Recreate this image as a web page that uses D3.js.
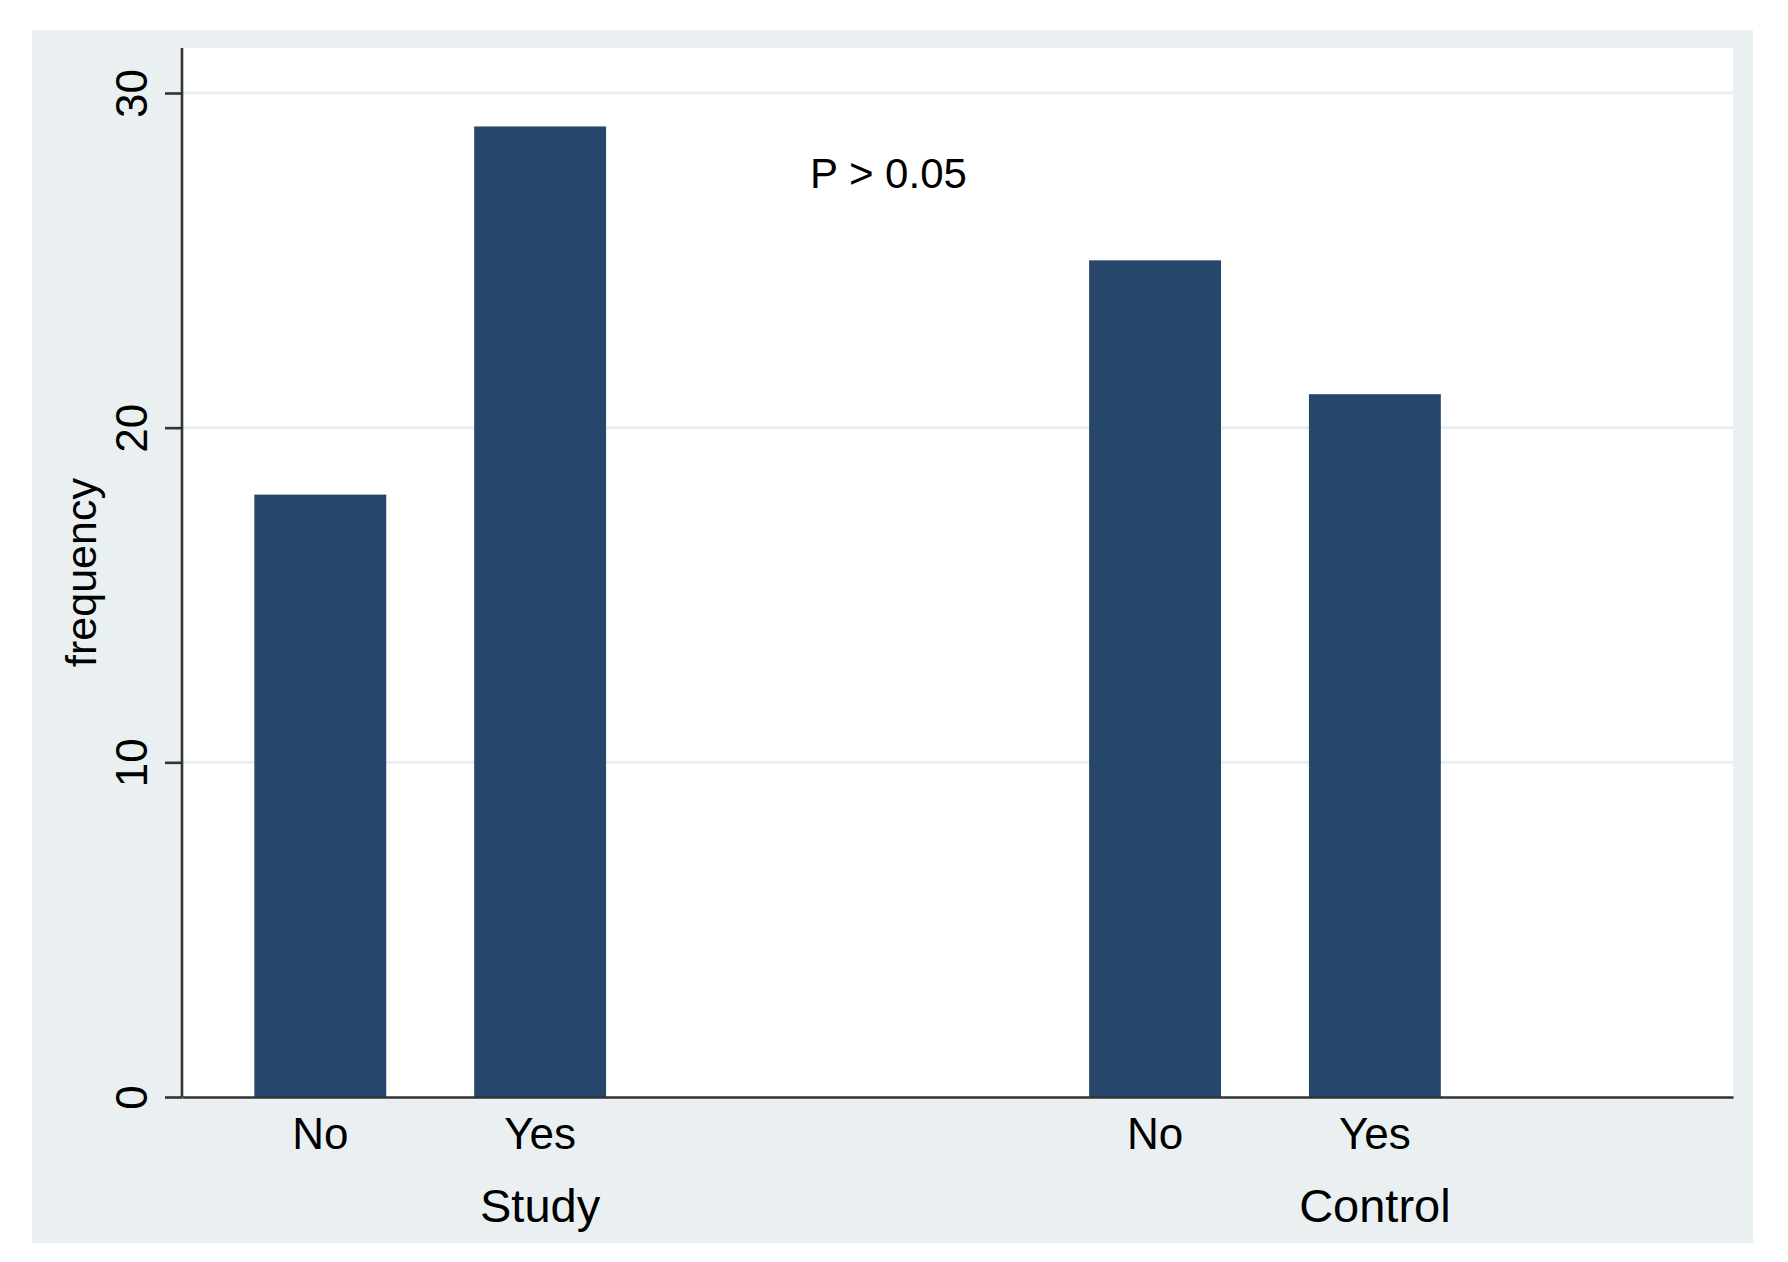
<!DOCTYPE html>
<html>
<head>
<meta charset="utf-8">
<script src="https://cdn.jsdelivr.net/npm/d3@7"></script>
<style>
  body { margin: 0; background: #fff; }
  text { font-family: "Liberation Sans", Arial, Helvetica, sans-serif; fill: #000; }
</style>
</head>
<body>
<script>
// data
var groups = ["Study", "Control"];
var answers = ["No", "Yes"];
var studyCounts = [18, 29];
var controlCounts = [25, 21];
var yTicks = [0, 10, 20, 30];
var pLabel = "P > 0.05";

var dataset = [];
groups.forEach(function(g, i) {
  var vals = i === 0 ? studyCounts : controlCounts;
  answers.forEach(function(a, j) {
    dataset.push({ group: g, answer: a, value: vals[j] });
  });
});

// sizes
var w = 1788, h = 1262;
var panel = { x: 32, y: 30, w: 1721, h: 1213 };
var plot = { left: 182, right: 1733, top: 48, bottom: 1097 };

var svg = d3.select("body").append("svg")
  .attr("width", w)
  .attr("height", h);

// outer light panel + white plot region
svg.append("rect")
  .attr("x", panel.x).attr("y", panel.y)
  .attr("width", panel.w).attr("height", panel.h)
  .attr("fill", "#eaf0f2");
svg.append("rect")
  .attr("x", plot.left).attr("y", plot.top)
  .attr("width", plot.right - plot.left).attr("height", plot.bottom - plot.top)
  .attr("fill", "#ffffff");

// scales
var yScale = d3.scaleLinear()
  .domain([0, 30])
  .range([plot.bottom, 93]);

var x0 = d3.scaleBand()
  .domain(groups)
  .range([plot.left, plot.right])
  .paddingInner(0.21)
  .paddingOuter(0.034);

// Stata left an empty third slot in each group
var x1 = d3.scaleBand()
  .domain(answers.concat([""]))
  .range([0, x0.bandwidth()])
  .paddingInner(0.4)
  .paddingOuter(0.2);

// gridlines
svg.append("g")
  .selectAll("line")
  .data(yTicks.filter(function(d) { return d > 0; }))
  .enter()
  .append("line")
  .attr("x1", plot.left).attr("x2", plot.right)
  .attr("y1", function(d) { return yScale(d); })
  .attr("y2", function(d) { return yScale(d); })
  .attr("stroke", "#e6eff1")
  .attr("stroke-width", 3);

// bars
svg.append("g")
  .selectAll("rect")
  .data(dataset)
  .enter()
  .append("rect")
  .attr("x", function(d) { return x0(d.group) + x1(d.answer); })
  .attr("y", function(d) { return yScale(d.value); })
  .attr("width", x1.bandwidth())
  .attr("height", function(d) { return yScale(0) - yScale(d.value); })
  .attr("fill", "#27466b");

// y axis
var yAxis = d3.axisLeft(yScale).tickValues(yTicks).tickSize(17).tickSizeOuter(0);
var gy = svg.append("g")
  .attr("transform", "translate(" + plot.left + ",0)")
  .call(yAxis);
gy.select(".domain")
  .attr("d", "M0," + plot.top + "V" + plot.bottom)
  .attr("stroke", "#333")
  .attr("stroke-width", 2.6);
gy.selectAll(".tick line").attr("stroke", "#333").attr("stroke-width", 2.6);
gy.selectAll(".tick text")
  .attr("transform", "rotate(-90)")
  .attr("x", 0)
  .attr("y", -35)
  .attr("dy", 0)
  .attr("text-anchor", "middle")
  .style("font-size", "44px")
  .style("font-family", "'Liberation Sans', Arial, sans-serif")
  .attr("fill", "#000");

// x axis (group labels on the outer scale)
var xAxis = d3.axisBottom(x0).tickSize(0).tickSizeOuter(0);
var gx = svg.append("g")
  .attr("transform", "translate(0," + plot.bottom + ")")
  .call(xAxis);
gx.select(".domain").attr("stroke", "#333").attr("stroke-width", 2.6);
gx.selectAll(".tick text")
  .attr("y", 125)
  .attr("dy", 0)
  .style("font-size", "47px")
  .style("font-family", "'Liberation Sans', Arial, sans-serif")
  .attr("fill", "#000");

// inner labels No / Yes
groups.forEach(function(g) {
  var inner = d3.axisBottom(x1).tickValues(answers).tickSize(0);
  var gi = svg.append("g")
    .attr("transform", "translate(" + x0(g) + "," + plot.bottom + ")")
    .call(inner);
  gi.select(".domain").remove();
  gi.selectAll(".tick text")
    .attr("y", 52)
    .attr("dy", 0)
    .style("font-size", "44px")
    .style("font-family", "'Liberation Sans', Arial, sans-serif")
    .attr("fill", "#000");
});

// y axis title
svg.append("text")
  .attr("transform", "translate(96," + (plot.top + plot.bottom) / 2 + ") rotate(-90)")
  .attr("text-anchor", "middle")
  .style("font-size", "43px")
  .text("frequency");

// annotation
svg.append("text")
  .attr("x", 810)
  .attr("y", 188)
  .style("font-size", "42px")
  .text(pLabel);
</script>
</body>
</html>
